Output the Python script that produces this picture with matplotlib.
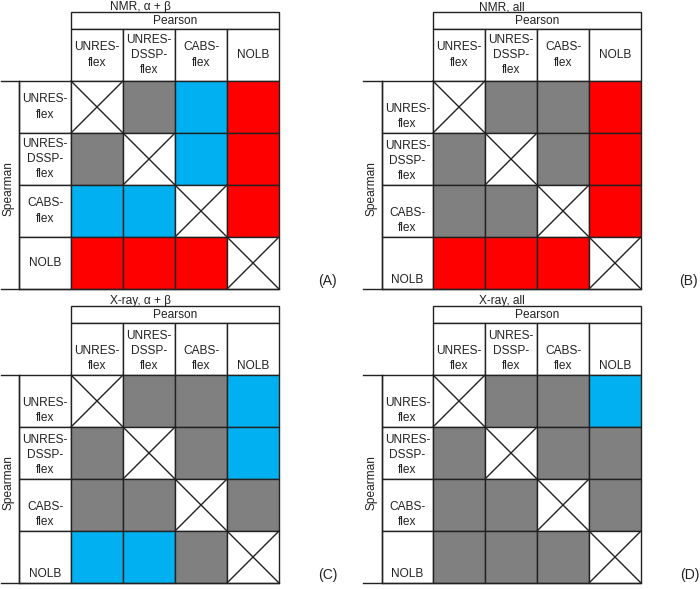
import matplotlib
matplotlib.use("Agg")
import matplotlib.pyplot as plt
from matplotlib.patches import Rectangle

# cell codes: -1 = diagonal (crossed), 0 = gray, 1 = blue, 2 = red
methods = ["UNRES-\nflex", "UNRES-\nDSSP-\nflex", "CABS-\nflex", "NOLB"]
titles = ["NMR, \u03b1 + \u03b2", "NMR, all", "X-ray, \u03b1 + \u03b2", "X-ray, all"]
tags = ["(A)", "(B)", "(C)", "(D)"]

nmr_ab = [[-1, 0, 1, 2],
          [0, -1, 1, 2],
          [1, 1, -1, 2],
          [2, 2, 2, -1]]
nmr_all = [[-1, 0, 0, 2],
           [0, -1, 0, 2],
           [0, 0, -1, 2],
           [2, 2, 2, -1]]
xray_ab = [[-1, 0, 0, 1],
           [0, -1, 0, 1],
           [0, 0, -1, 0],
           [1, 1, 0, -1]]
xray_all = [[-1, 0, 0, 1],
            [0, -1, 0, 0],
            [0, 0, -1, 0],
            [0, 0, 0, -1]]
matrices = [nmr_ab, nmr_all, xray_ab, xray_all]

colors = {0: "#808080", 1: "#00b0f0", 2: "#ff0000", -1: "white"}

plt.rcParams["font.family"] = ["Liberation Sans", "DejaVu Sans"]

fig = plt.figure(figsize=(7, 5.89), dpi=100)
ax = fig.add_axes([0, 0, 1, 1])
ax.set_xlim(0, 700)
ax.set_ylim(589, 0)
ax.axis("off")

LW = 1.0
LC = "#222222"
FS = 8.6
TC = "#222222"

# panel layout: left line x, label col x, grid x, top y, text alignment, tag x
panels = [
    dict(x0=1, xs=19, xg=71, y0=12, hva="center", rva="center", tx=327),
    dict(x0=363, xs=382, xg=433, y0=12, hva="center", rva="bottom", tx=688),
    dict(x0=1, xs=19, xg=71, y0=306, hva="bottom", rva="bottom", tx=328),
    dict(x0=363, xs=382, xg=433, y0=306, hva="bottom", rva="bottom", tx=690),
]
cw = 52.0   # cell width
ch = 52.0   # cell height
ph = 17.0   # Pearson box height
hh = 52.0   # header height

for p, mat, title, tag in zip(panels, matrices, titles, tags):
    xg, y0 = p["xg"], p["y0"]
    xr = xg + 4 * cw
    yh = y0 + ph
    yg = yh + hh
    yb = yg + 4 * ch

    ax.text((p["x0"] + xr) / 2, y0 - 2, title, ha="center", va="baseline",
            fontsize=FS, color=TC)

    # Pearson box
    ax.add_patch(Rectangle((xg, y0), 4 * cw, ph, fc="white", ec=LC, lw=LW))
    ax.text(xg + 2 * cw, y0 + ph / 2, "Pearson", ha="center", va="center",
            fontsize=FS, color=TC)

    # column headers
    for j, name in enumerate(methods):
        ax.add_patch(Rectangle((xg + j * cw, yh), cw, hh, fc="white", ec=LC, lw=LW))
        if p["hva"] == "center":
            ax.text(xg + (j + 0.5) * cw, yh + hh / 2, name, ha="center", va="center",
                    fontsize=FS, linespacing=1.35, color=TC)
        else:
            ax.text(xg + (j + 0.5) * cw, yg - 3, name, ha="center", va="bottom",
                    fontsize=FS, linespacing=1.35, color=TC)

    # row labels
    for i, name in enumerate(methods):
        ax.add_patch(Rectangle((p["xs"], yg + i * ch), xg - p["xs"], ch, fc="white",
                               ec=LC, lw=LW))
        if p["rva"] == "center":
            ax.text((p["xs"] + xg) / 2, yg + (i + 0.5) * ch, name, ha="center",
                    va="center", fontsize=FS, linespacing=1.35, color=TC)
        else:
            ax.text((p["xs"] + xg) / 2, yg + (i + 1) * ch - 3, name, ha="center",
                    va="bottom", fontsize=FS, linespacing=1.35, color=TC)

    # Spearman
    ax.plot([p["x0"], p["xs"]], [yg, yg], color=LC, lw=LW)
    ax.plot([p["x0"], xr], [yb, yb], color=LC, lw=LW)
    ax.plot([p["xs"], p["xs"]], [yg, yb], color=LC, lw=LW)
    ax.text((p["x0"] + p["xs"]) / 2 - 1, (yg + yb) / 2 + 4, "Spearman", rotation=90,
            ha="center", va="center", fontsize=FS, color=TC)

    # matrix cells
    for i, row in enumerate(mat):
        for j, v in enumerate(row):
            cx, cy = xg + j * cw, yg + i * ch
            ax.add_patch(Rectangle((cx, cy), cw, ch, fc=colors[v], ec=LC, lw=LW))
            if v == -1:
                ax.plot([cx, cx + cw], [cy, cy + ch], color=LC, lw=LW)
                ax.plot([cx, cx + cw], [cy + ch, cy], color=LC, lw=LW)

    ax.text(p["tx"], yb - 8, tag, ha="center", va="center", fontsize=10, color=TC)

fig.savefig("out.png", dpi=100)
